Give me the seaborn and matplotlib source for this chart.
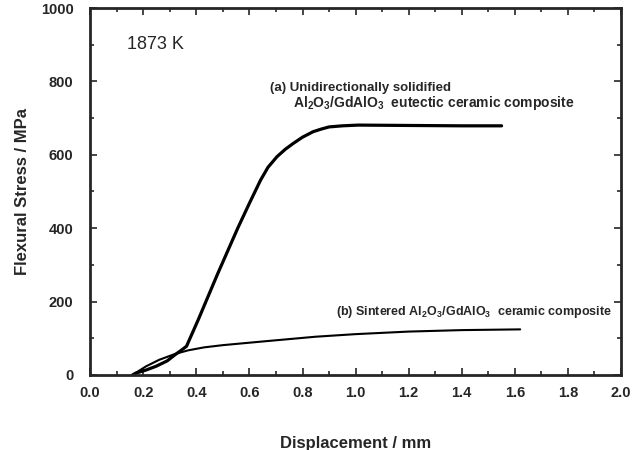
import numpy as np
import pandas as pd
import seaborn as sns
import matplotlib.pyplot as plt
from matplotlib.ticker import MultipleLocator

# Curve (a): unidirectionally solidified eutectic composite
disp_a = [0.16, 0.173, 0.21, 0.247, 0.29, 0.32, 0.345, 0.363, 0.407, 0.48, 0.556,
          0.60, 0.642, 0.67, 0.704, 0.735, 0.765, 0.80, 0.84, 0.87, 0.90, 0.95,
          1.01, 1.20, 1.40, 1.55]
stress_a = [0, 5, 13, 23, 38, 55, 68, 78, 150, 275, 400,
            468, 531, 566, 595, 615, 631, 648, 663, 670, 676, 679,
            681, 680, 679, 679]

# Curve (b): sintered composite
disp_b = [0.16, 0.21, 0.26, 0.32, 0.37, 0.43, 0.50, 0.65, 0.85, 1.00, 1.20, 1.40, 1.62]
stress_b = [0, 23, 41, 57, 67, 75, 81, 91, 104, 111, 118, 122, 124]

x_ticks = [0.0, 0.2, 0.4, 0.6, 0.8, 1.0, 1.2, 1.4, 1.6, 1.8, 2.0]
y_ticks = [0, 200, 400, 600, 800, 1000]

df = pd.concat([
    pd.DataFrame({'disp': disp_a, 'stress': stress_a, 'sample': 'a'}),
    pd.DataFrame({'disp': disp_b, 'stress': stress_b, 'sample': 'b'}),
])

sns.set_style('ticks')
plt.rcParams['font.family'] = ['Liberation Sans', 'DejaVu Sans']
plt.rcParams['mathtext.fontset'] = 'custom'
plt.rcParams['mathtext.rm'] = 'Liberation Sans:bold'
plt.rcParams['mathtext.default'] = 'rm'

fig = plt.figure(figsize=(6.35, 4.5), dpi=100)
ax = fig.add_axes([0.142, 0.167, 0.836, 0.815])

sns.lineplot(data=df[df['sample'] == 'a'], x='disp', y='stress', sort=False,
             estimator=None, color='black', linewidth=2.3, ax=ax)
sns.lineplot(data=df[df['sample'] == 'b'], x='disp', y='stress', sort=False,
             estimator=None, color='black', linewidth=1.5, ax=ax)

ax.set_xlim(0, 2.0)
ax.set_ylim(0, 1000)
ax.set_xticks(x_ticks)
ax.set_xticklabels([f'{t:.1f}' for t in x_ticks])
ax.set_yticks(y_ticks)
ax.xaxis.set_minor_locator(MultipleLocator(0.1))
ax.yaxis.set_minor_locator(MultipleLocator(100))
ax.tick_params(which='both', direction='in', top=True, right=True, width=1.2)
ax.tick_params(which='major', length=5, labelsize=10.5)
ax.tick_params(which='minor', length=3)
ax.tick_params(axis='x', which='major', pad=8)
ax.tick_params(axis='y', which='major', pad=12)
for lbl in ax.get_xticklabels() + ax.get_yticklabels():
    lbl.set_fontweight('bold')
for sp in ax.spines.values():
    sp.set_linewidth(2.0)

ax.set_xlabel('Displacement / mm', fontsize=12, fontweight='bold', labelpad=26)
ax.set_ylabel('Flexural Stress / MPa', fontsize=12, fontweight='bold', labelpad=8)

ax.text(0.14, 900, '1873 K', fontsize=13, va='center')
ax.text(0.678, 782, '(a) Unidirectionally solidified', fontsize=9.5,
        fontweight='bold', va='center')
ax.text(0.765, 741, r'Al$_2$O$_3$/GdAlO$_3$  eutectic ceramic composite',
        fontsize=10, fontweight='bold', va='center')
ax.text(0.925, 172, r'(b) Sintered Al$_2$O$_3$/GdAlO$_3$  ceramic composite',
        fontsize=9, fontweight='bold', va='center')

fig.savefig('out.png', dpi=100)
